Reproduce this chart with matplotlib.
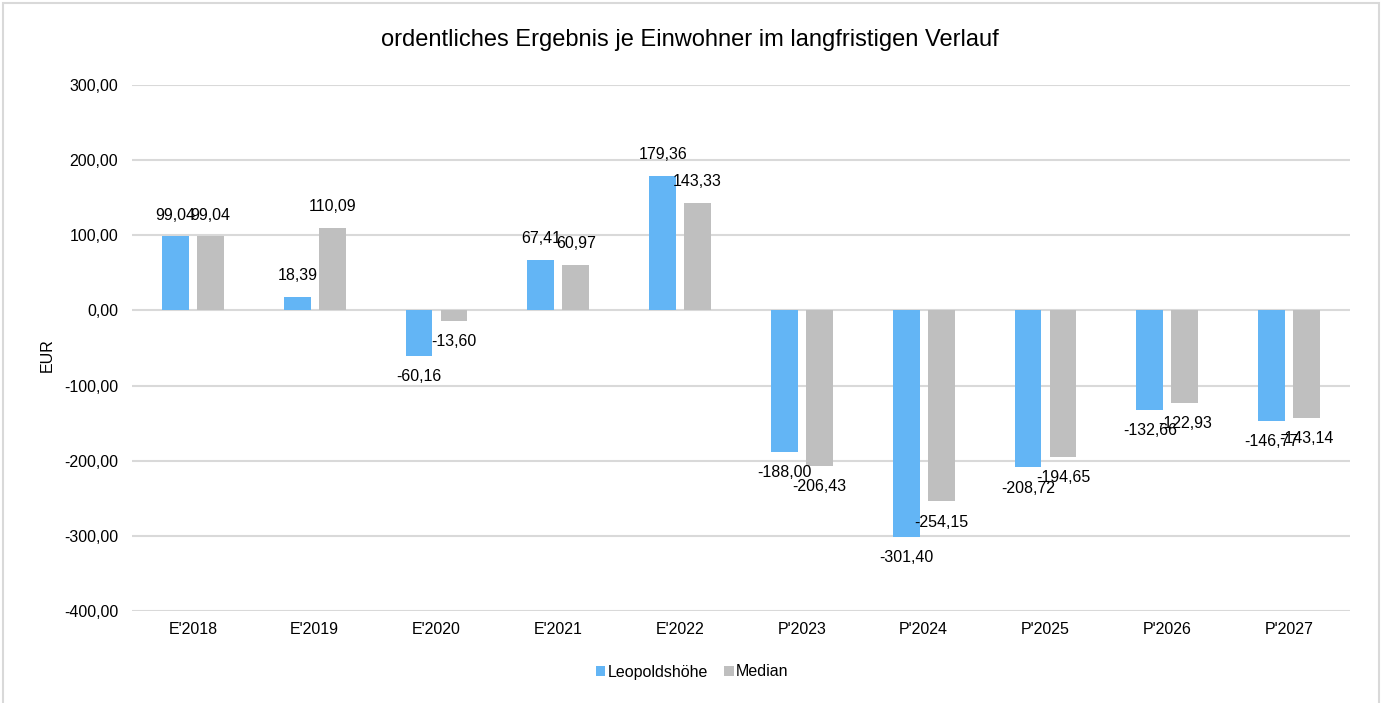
import matplotlib
matplotlib.use("Agg")
import matplotlib.pyplot as plt
import numpy as np
from matplotlib.patches import Rectangle

plt.rcParams['font.family'] = ['Liberation Sans', 'DejaVu Sans']

categories = ["E'2018", "E'2019", "E'2020", "E'2021", "E'2022",
              "P'2023", "P'2024", "P'2025", "P'2026", "P'2027"]
leopoldshoehe = [99.04, 18.39, -60.16, 67.41, 179.36,
                 -188.00, -301.40, -208.72, -132.66, -146.77]
median = [99.04, 110.09, -13.60, 60.97, 143.33,
          -206.43, -254.15, -194.65, -122.93, -143.14]
series_names = ["Leopoldshöhe", "Median"]
yticks = [300, 200, 100, 0, -100, -200, -300, -400]

blue = "#63B5F5"
gray = "#BFBFBF"
fs = 11.5

fig = plt.figure(figsize=(13.84, 7.03), dpi=100)
ax = fig.add_axes([132/1384, 1-611/703, (1350-132)/1384, (611-85)/703])

x = np.arange(len(categories))
w = 0.22
off = 0.143
b1 = ax.bar(x - off, leopoldshoehe, w, color=blue, label=series_names[0], zorder=3)
b2 = ax.bar(x + off, median, w, color=gray, label=series_names[1], zorder=3)

def fmt(v):
    return f"{v:.2f}".replace(".", ",")

for bars, vals in ((b1, leopoldshoehe), (b2, median)):
    for rect, v in zip(bars, vals):
        cx = rect.get_x() + rect.get_width()/2
        dy = 15 if v >= 0 else -15
        ax.annotate(fmt(v), (cx, v), xytext=(0, dy), textcoords='offset points',
                    ha='center', va='center', fontsize=fs, color='#000000', zorder=5)

ax.set_ylim(-400, 300)
ax.set_xlim(-0.5, len(categories) - 0.5)
ax.set_yticks(yticks)
ax.set_yticklabels([fmt(v) for v in yticks], fontsize=fs)
ax.set_xticks(x)
ax.set_xticklabels(categories, fontsize=fs)
ax.tick_params(axis='y', length=0, pad=10)
ax.tick_params(axis='x', length=0, pad=8)
ax.grid(axis='y', color='#D9D9D9', linewidth=1.5, zorder=0)
ax.set_axisbelow(True)
for s in ax.spines.values():
    s.set_visible(False)

fig.text(47/1384, 1-355/703, "EUR", rotation=90, ha='center', va='center', fontsize=fs)
fig.text(690/1384, 1-40/703, "ordentliches Ergebnis je Einwohner im langfristigen Verlauf",
         ha='center', va='center', fontsize=17)

leg = fig.legend(handles=[b1, b2], labels=series_names, loc='center',
                 bbox_to_anchor=(692/1384, 1-672/703), ncol=2, frameon=False,
                 fontsize=fs, handlelength=0.6, handleheight=0.6,
                 handletextpad=0.15, columnspacing=1.0)

fig.patches.append(Rectangle((3/1384, -0.01), 1376/1384, 1-3/703+0.01,
                             transform=fig.transFigure, fill=False,
                             edgecolor='#D9D9D9', linewidth=1.5))

fig.savefig("out.png", dpi=100)
